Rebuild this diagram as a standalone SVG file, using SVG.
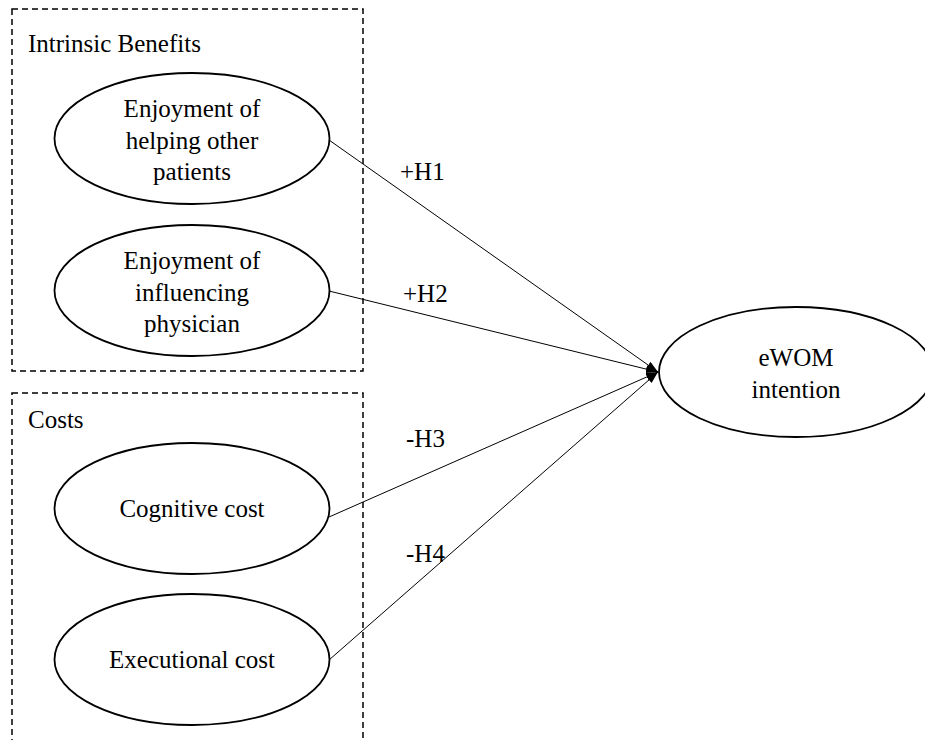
<svg xmlns="http://www.w3.org/2000/svg" width="925" height="740" viewBox="0 0 925 740">
<defs>
<style>
.box{fill:none;stroke:#000;stroke-width:1.5;stroke-dasharray:6,4}
.node ellipse{fill:#fff;stroke:#000;stroke-width:1.8}
text{font-family:"Liberation Serif","Times New Roman",serif;font-size:25px;fill:#000}
.c{text-anchor:middle}
.edge{stroke:#000;stroke-width:1;fill:none;marker-end:url(#ah)}
</style>
<marker id="ah" viewBox="0 0 12 8" refX="12" refY="4" markerWidth="12" markerHeight="8" markerUnits="userSpaceOnUse" orient="auto">
<path d="M0,0 L12,4 L0,8 Z" fill="#000"/>
</marker>
</defs>
<rect width="925" height="740" fill="#fff"/>
<g id="group-benefits">
<rect class="box" x="12" y="9" width="351" height="362"/>
<text x="28" y="52">Intrinsic Benefits</text>
</g>
<g id="group-costs">
<rect class="box" x="12" y="393" width="351" height="360"/>
<text x="28" y="428">Costs</text>
</g>
<g id="connectors">
<line class="edge" x1="329" y1="140" x2="658" y2="372"/>
<line class="edge" x1="329" y1="291" x2="658" y2="372"/>
<line class="edge" x1="329" y1="517" x2="658" y2="372"/>
<line class="edge" x1="329" y1="660" x2="658" y2="372"/>
<text x="400" y="180">+H1</text>
<text x="403" y="302">+H2</text>
<text x="406" y="447">-H3</text>
<text x="406" y="562">-H4</text>
</g>
<g id="n1" class="node">
<ellipse cx="192" cy="138.5" rx="137.5" ry="65.5"/>
<text class="c" x="192" y="117">Enjoyment of</text>
<text class="c" x="192" y="148.5">helping other</text>
<text class="c" x="192" y="180">patients</text>
</g>
<g id="n2" class="node">
<ellipse cx="192" cy="290.5" rx="137.5" ry="65.5"/>
<text class="c" x="192" y="269">Enjoyment of</text>
<text class="c" x="192" y="300.5">influencing</text>
<text class="c" x="192" y="332">physician</text>
</g>
<g id="n3" class="node">
<ellipse cx="192" cy="508.5" rx="137.5" ry="65.5"/>
<text class="c" x="192" y="517">Cognitive cost</text>
</g>
<g id="n4" class="node">
<ellipse cx="192" cy="659.5" rx="137.5" ry="65.5"/>
<text class="c" x="192" y="668">Executional cost</text>
</g>
<g id="n5" class="node">
<ellipse cx="796" cy="372" rx="137" ry="65"/>
<text class="c" x="796" y="366">eWOM</text>
<text class="c" x="796" y="398">intention</text>
</g>
</svg>
